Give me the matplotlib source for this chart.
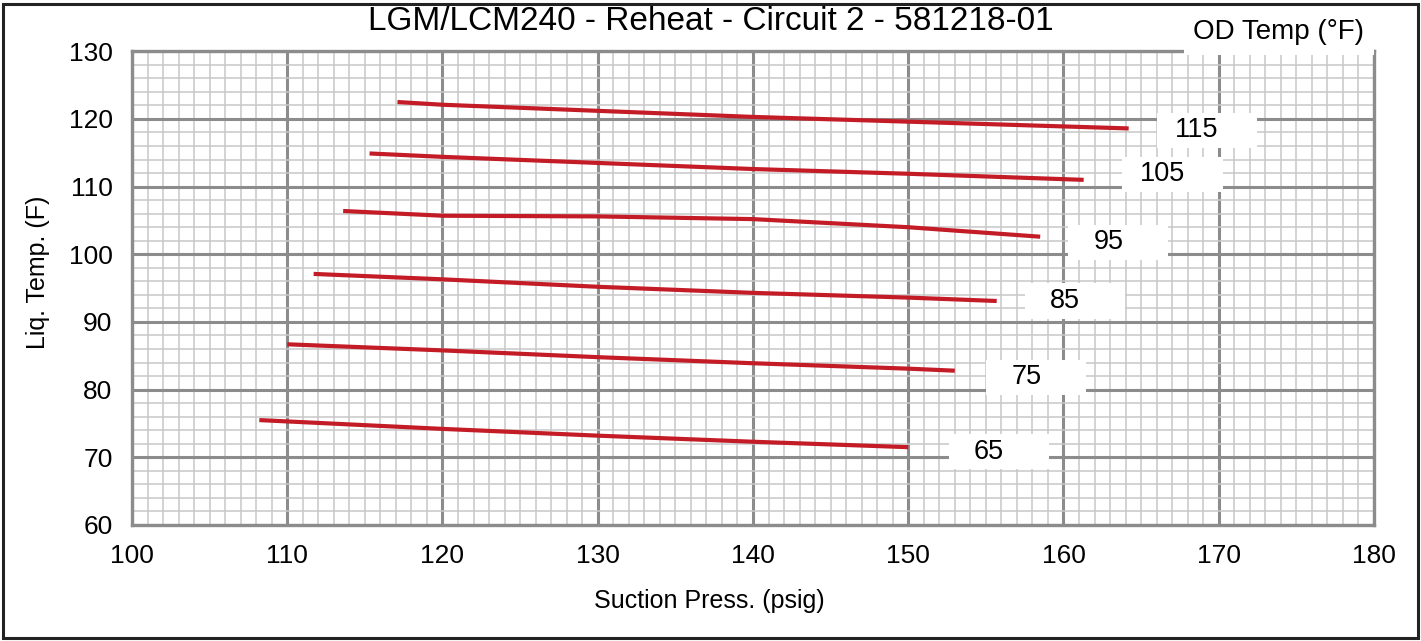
"""
Liquid temperature vs. suction pressure chart, one curve per outdoor temperature.
"""

import matplotlib.pyplot as plt
from matplotlib.patches import Rectangle
from matplotlib.ticker import MultipleLocator

plt.rcParams["font.family"] = ["Liberation Sans", "DejaVu Sans"]

# OD temperatures (°F) and their curves: suction pressure (psig) -> liquid temp (F)
od_temps = [65, 75, 85, 95, 105, 115]

press_65 = [108.2, 120, 130, 140, 150]
liq_65 = [75.5, 74.2, 73.2, 72.3, 71.5]

press_75 = [110.0, 120, 130, 140, 150, 153.0]
liq_75 = [86.7, 85.8, 84.8, 83.9, 83.1, 82.8]

press_85 = [111.7, 120, 130, 140, 150, 155.7]
liq_85 = [97.1, 96.3, 95.2, 94.3, 93.6, 93.1]

press_95 = [113.6, 120, 130, 140, 150, 158.5]
liq_95 = [106.4, 105.7, 105.6, 105.2, 104.0, 102.6]

press_105 = [115.3, 120, 130, 140, 150, 161.3]
liq_105 = [114.9, 114.4, 113.5, 112.6, 111.9, 111.0]

press_115 = [117.1, 120, 130, 140, 150, 164.2]
liq_115 = [122.5, 122.1, 121.2, 120.3, 119.6, 118.6]

curves = [
    (press_65, liq_65),
    (press_75, liq_75),
    (press_85, liq_85),
    (press_95, liq_95),
    (press_105, liq_105),
    (press_115, liq_115),
]

# where each OD temp tag sits (data coords)
tag_pos = [(155.2, 70.8), (157.6, 81.8), (160.1, 93.1), (162.9, 101.8), (166.4, 111.8), (168.6, 118.3)]

line_color = "#c41c26"
major_gray = "#8c8c8c"
minor_gray = "#c8c8c8"

fig = plt.figure(figsize=(14.21, 6.41), dpi=100)
ax = fig.add_axes([0.0929, 0.181, 0.874, 0.739])

for px, ty in curves:
    ax.plot(px, ty, color=line_color, linewidth=3.0, solid_capstyle="butt", zorder=3)

ax.set_xlim(100, 180)
ax.set_ylim(60, 130)
ax.xaxis.set_major_locator(MultipleLocator(10))
ax.xaxis.set_minor_locator(MultipleLocator(1))
ax.yaxis.set_major_locator(MultipleLocator(10))
ax.yaxis.set_minor_locator(MultipleLocator(2))

ax.grid(which="minor", color=minor_gray, linewidth=1.1, zorder=0)
ax.grid(which="major", color=major_gray, linewidth=2.2, zorder=1)
ax.set_axisbelow(True)

ax.tick_params(which="both", length=0, labelsize=19, pad=14)
for side in ax.spines.values():
    side.set_color(major_gray)
    side.set_linewidth(2.4)

ax.set_xlabel("Suction Press. (psig)", fontsize=18)
ax.set_ylabel("Liq. Temp. (F)", fontsize=18)
ax.xaxis.set_label_coords(0.465, -0.135)
ax.yaxis.set_label_coords(-0.066, 0.534)

# white tags with the OD temperature next to each curve
for (tx, ty), od in zip(tag_pos, od_temps):
    ax.add_patch(Rectangle((tx - 2.6, ty - 2.6), 6.45, 5.2, facecolor="white",
                           edgecolor="none", zorder=4))
    ax.text(tx, ty, str(od), fontsize=19.5, ha="center", va="center", zorder=5)

fig.text(0.5, 0.966, "LGM/LCM240 - Reheat - Circuit 2 - 581218-01",
         fontsize=24, ha="center", va="center")
fig.text(0.900, 0.950, "OD Temp (°F)", fontsize=20, ha="center", va="center",
         zorder=10, bbox=dict(boxstyle="square,pad=0.35", fc="white", ec="none"))

# outer frame
fig.patches.append(Rectangle((0.002, 0.004), 0.996, 0.99, transform=fig.transFigure,
                             fill=False, edgecolor="#222222", linewidth=2.2))

fig.savefig("out.png", dpi=100)
